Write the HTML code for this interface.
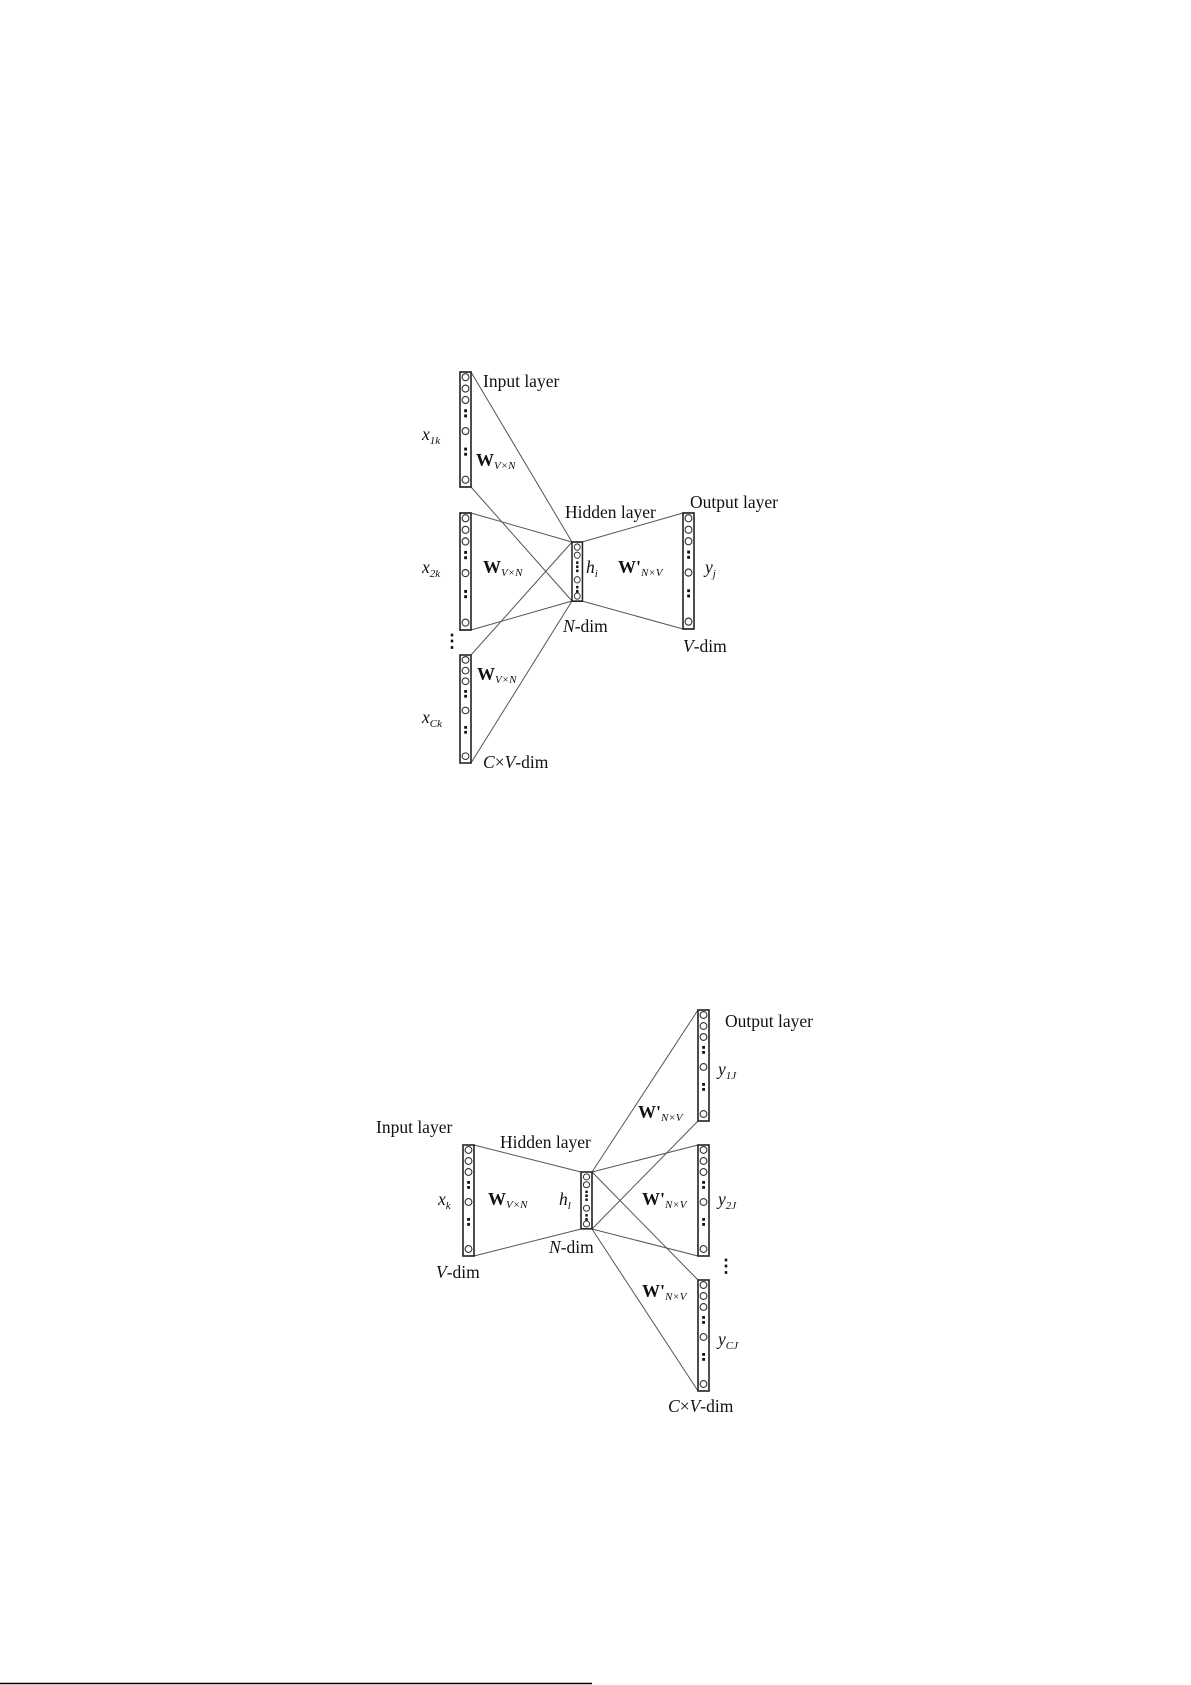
<!DOCTYPE html>
<html><head><meta charset="utf-8"><style>
html,body{margin:0;padding:0;background:#fff}
svg{display:block}
text{font-family:"Liberation Serif",serif;fill:#111}
.l{font-size:17.5px}
.b{font-size:18px;font-weight:bold}
.s{font-size:11px;font-style:italic;font-weight:normal}
.i{font-style:italic}
</style></head><body>
<svg width="1191" height="1685" viewBox="0 0 1191 1685" xmlns="http://www.w3.org/2000/svg">
<defs>
<g id="col">
<rect x="0" y="0" width="11" height="111" fill="none" stroke="#222" stroke-width="1.6"/>
<g fill="none" stroke="#333" stroke-width="1.1">
<circle cx="5.5" cy="5" r="3.4"/><circle cx="5.5" cy="16" r="3.4"/><circle cx="5.5" cy="27" r="3.4"/>
<circle cx="5.5" cy="57" r="3.4"/><circle cx="5.5" cy="104" r="3.4"/></g>
<g fill="#111"><rect x="4.2" y="36" width="2.8" height="2.8"/><rect x="4.2" y="41" width="2.8" height="2.8"/>
<rect x="4.2" y="73" width="2.8" height="2.8"/><rect x="4.2" y="78" width="2.8" height="2.8"/></g>
</g>
<g id="hid">
<rect x="0" y="0" width="11" height="58" fill="none" stroke="#222" stroke-width="1.6"/>
<g fill="none" stroke="#333" stroke-width="1">
<circle cx="5.5" cy="5" r="3.1"/><circle cx="5.5" cy="13" r="3.1"/><circle cx="5.5" cy="37" r="3.1"/><circle cx="5.5" cy="53" r="3.1"/></g>
<g fill="#111"><rect x="4.3" y="19" width="2.5" height="2.5"/><rect x="4.3" y="23" width="2.5" height="2.5"/><rect x="4.3" y="27" width="2.5" height="2.5"/>
<rect x="4.3" y="43" width="2.5" height="2.5"/><rect x="4.3" y="47" width="2.5" height="2.5"/></g>
</g>
</defs>

<!-- Diagram 1 -->
<g stroke="#555" stroke-width="1" fill="none">
<line x1="471" y1="372" x2="572" y2="542"/>
<line x1="471" y1="487" x2="572" y2="601"/>
<line x1="471" y1="513" x2="572" y2="542"/>
<line x1="471" y1="630" x2="572" y2="601"/>
<line x1="471" y1="655" x2="572" y2="542"/>
<line x1="471" y1="763" x2="572" y2="601"/>
<line x1="582" y1="542" x2="683" y2="513"/>
<line x1="582" y1="601" x2="683" y2="629"/>
</g>
<use href="#col" transform="translate(460,372) scale(1,1.036)"/>
<use href="#col" transform="translate(460,513) scale(1,1.054)"/>
<use href="#col" transform="translate(460,655) scale(1,0.973)"/>
<use href="#hid" transform="translate(572,542) scale(0.95,1.02)"/>
<use href="#col" transform="translate(683,513) scale(1,1.045)"/>

<text class="l" x="483" y="387">Input layer</text>
<text class="l i" x="422" y="440">x<tspan class="s" dy="4">1k</tspan></text>
<text class="b" x="476" y="466">W<tspan class="s" dy="3">V×N</tspan></text>
<text class="l i" x="422" y="573">x<tspan class="s" dy="4">2k</tspan></text>
<text class="b" x="483" y="573">W<tspan class="s" dy="3">V×N</tspan></text>
<text class="b" x="443" y="647">⋮</text>
<text class="b" x="477" y="680">W<tspan class="s" dy="3">V×N</tspan></text>
<text class="l i" x="422" y="723">x<tspan class="s" dy="4">Ck</tspan></text>
<text class="l" x="483" y="768"><tspan class="i">C</tspan>×<tspan class="i">V</tspan>-dim</text>
<text class="l" x="565" y="518">Hidden layer</text>
<text class="l" x="690" y="508">Output layer</text>
<text class="l i" x="586" y="573">h<tspan class="s" dy="4">i</tspan></text>
<text class="b" x="618" y="573">W'<tspan class="s" dy="3">N×V</tspan></text>
<text class="l i" x="705" y="573">y<tspan class="s" dy="4">j</tspan></text>
<text class="l" x="563" y="632"><tspan class="i">N</tspan>-dim</text>
<text class="l" x="683" y="652"><tspan class="i">V</tspan>-dim</text>

<!-- Diagram 2 -->
<g stroke="#555" stroke-width="1" fill="none">
<line x1="474" y1="1145" x2="581" y2="1172"/>
<line x1="474" y1="1256" x2="581" y2="1229"/>
<line x1="592" y1="1172" x2="698" y2="1010"/>
<line x1="592" y1="1229" x2="698" y2="1121"/>
<line x1="592" y1="1172" x2="698" y2="1145"/>
<line x1="592" y1="1229" x2="698" y2="1256"/>
<line x1="592" y1="1172" x2="698" y2="1280"/>
<line x1="592" y1="1229" x2="698" y2="1391"/>
</g>
<use href="#col" transform="translate(463,1145)"/>
<use href="#hid" transform="translate(581,1172) scale(1,0.98)"/>
<use href="#col" transform="translate(698,1010)"/>
<use href="#col" transform="translate(698,1145)"/>
<use href="#col" transform="translate(698,1280)"/>

<text class="l" x="376" y="1133">Input layer</text>
<text class="l" x="500" y="1148">Hidden layer</text>
<text class="l" x="725" y="1027">Output layer</text>
<text class="l i" x="718" y="1075">y<tspan class="s" dy="4">1J</tspan></text>
<text class="b" x="638" y="1118">W'<tspan class="s" dy="3">N×V</tspan></text>
<text class="l i" x="438" y="1205">x<tspan class="s" dy="4">k</tspan></text>
<text class="b" x="488" y="1205">W<tspan class="s" dy="3">V×N</tspan></text>
<text class="l i" x="559" y="1205">h<tspan class="s" dy="4">l</tspan></text>
<text class="b" x="642" y="1205">W'<tspan class="s" dy="3">N×V</tspan></text>
<text class="l i" x="718" y="1205">y<tspan class="s" dy="4">2J</tspan></text>
<text class="l" x="549" y="1253"><tspan class="i">N</tspan>-dim</text>
<text class="l" x="436" y="1278"><tspan class="i">V</tspan>-dim</text>
<text class="b" x="717" y="1272">⋮</text>
<text class="b" x="642" y="1297">W'<tspan class="s" dy="3">N×V</tspan></text>
<text class="l i" x="718" y="1345">y<tspan class="s" dy="4">CJ</tspan></text>
<text class="l" x="668" y="1412"><tspan class="i">C</tspan>×<tspan class="i">V</tspan>-dim</text>

<line x1="0" y1="1683.5" x2="592" y2="1683.5" stroke="#000" stroke-width="1.5"/>
</svg>
</body></html>
